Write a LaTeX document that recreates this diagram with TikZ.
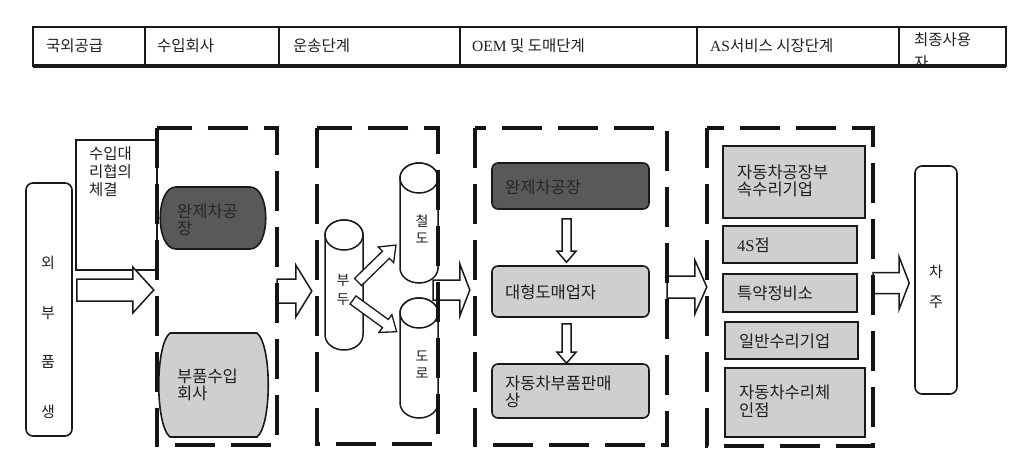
\documentclass[tikz,border=0pt]{standalone}
\usepackage{fontspec}
\setmainfont{Noto Sans CJK KR}
\newfontfamily\lat{Liberation Serif}
\usetikzlibrary{fit,calc}
\newcommand\harr[6]{%
  \draw[barrow] let \p1=(#1), \p2=(#2), \p3=(0,#3) in
    (\x1,\y3+#4pt) -- (\x2-#6pt,\y3+#4pt) -- (\x2-#6pt,\y3+#5pt) -- (\x2,\y3)
    -- (\x2-#6pt,\y3-#5pt) -- (\x2-#6pt,\y3-#4pt) -- (\x1,\y3-#4pt) -- cycle;}
\newcommand\varr[5]{%
  \draw[barrow] let \p1=($(#1.south)+(#5,0)$), \p2=(#2.north) in
    (\x1-4.5pt,\y1-#3pt) -- (\x1+4.5pt,\y1-#3pt) -- (\x1+4.5pt,\y2+#4pt+11pt)
    -- (\x1+9.5pt,\y2+#4pt+11pt) -- (\x1,\y2+#4pt) -- (\x1-9.5pt,\y2+#4pt+11pt)
    -- (\x1-4.5pt,\y2+#4pt+11pt) -- cycle;}
\newcommand\cyl[6]{%
  \node[fit={(#2-#5,#3)(#2+#5,#4)}] (#1) {};
  \draw[cylst] (#2-#5,#3+#6) -- (#2-#5,#4-#6) arc (180:0:#5 and #6)
    -- (#2+#5,#3+#6) arc (0:-180:#5 and #6) -- cycle;
  \draw[cylst] (#2,#3+#6) ellipse (#5 and #6);}
\begin{document}
\begin{tikzpicture}[x=1pt,y=-1pt,
  every node/.style={inner sep=0pt},
  ktxt/.style={font=\fontsize{16.5}{17.5}\selectfont, text=black!88, align=left},
  htxt/.style={font=\fontsize{15.5}{18}\selectfont, text=black!88, anchor=west},
  frame/.style={draw=black!90, line width=1.6pt},
  dboxst/.style={draw=black!92, line width=4.2pt, dash pattern=on 40pt off 16pt},
  barrow/.style={draw=black!90, line width=1.5pt, fill=white, line join=miter},
  cylst/.style={draw=black!90, line width=1.5pt, fill=white},
  lightbox/.style={frame, fill=black!19},
  darkbox/.style={frame, fill=black!65},
]
\useasboundingbox (0,0) rectangle (1023,472);

% ---- header table ----
\node[fit={(33,27)(1006,66)}] (tab) {};
\draw[line width=1.8pt, draw=black!90] (tab.north west) rectangle (tab.south east);
\draw[line width=3.5pt, draw=black!90] (tab.south west) -- (tab.south east);
\foreach \xx in {145,279,460,697,899} \draw[line width=1.6pt, draw=black!90] (\xx,27) -- (\xx,66);
\node[htxt] (h1) at (46,46) {국외공급};
\node[htxt] (h2) at (157,46) {수입회사};
\node[htxt] (h3) at (293,46) {운송단계};
\node[htxt] (h4) at (472,46) {{\lat OEM} 및 도매단계};
\node[htxt] (h5) at (710,46) {{\lat AS}서비스 시장단계};
\begin{scope}
  \clip (900,28) rectangle (1005,63);
  \node[htxt, align=left, font=\fontsize{15.5}{23}\selectfont] (h6) at (914,51) {최종사용\\자};
\end{scope}

% ---- group frames (names only; drawn at the end) ----
\node[fit={(157,128)(277,445)}] (b2) {};
\node[fit={(317,128)(438,444)}] (b3) {};
\node[fit={(475,128)(667,445)}] (b4) {};
\node[fit={(707,128)(873,446)}] (b5) {};

% ---- outer nodes ----
\node[fit={(26,183)(72,436)}, frame, rounded corners=7pt] (ext) {};
\node[align=center, font=\fontsize{15}{49.7}\selectfont, text=black!88] (extt) at (48,337.5) {외\\부\\품\\생};
\node[fit={(76,140)(157,270)}, frame] (agent) {};
\node[ktxt, anchor=north west, font=\fontsize{15.5}{18}\selectfont] (agentt) at (89,146) {수입대\\리협의\\체결};
\node[fit={(915,166)(957,394)}, frame, rounded corners=7pt] (cha) {};
\node[align=center, font=\fontsize{15}{30}\selectfont, text=black!88] (chat) at (936,287) {차\\주};

% ---- block arrows between stages ----
\harr{$(ext.east)+(4,0)$}{$(b2.west)+(-3,0)$}{290}{11}{23}{21}
\harr{b2.east}{$(b3.west)+(-5,0)$}{291}{12}{26}{16}
\harr{$(b3.east)+(-5,0)$}{$(b4.west)+(-5,0)$}{290}{10}{26}{10}
\harr{b4.east}{b5.west}{287}{11}{27}{12}
\harr{b5.east}{$(cha.west)+(-5,0)$}{283}{10.5}{26}{10}

% ---- stage 2: importers ----
\node[fit={(159,187)(267,249)}] (w2) {};
\draw[darkbox] (176,187) -- (250,187) .. controls (271,187) and (271,249) .. (250,249)
  -- (176,249) .. controls (155,249) and (155,187) .. (176,187);
\node[ktxt, anchor=west, text=black!85] (w2t) at (177,220) {완제차공\\장};
\node[fit={(160,333)(267,437)}] (p2) {};
\draw[lightbox] (170,333) -- (257,333) .. controls (272,345) and (272,425) .. (257,437)
  -- (170,437) .. controls (155,425) and (155,345) .. (170,333);
\node[ktxt, anchor=west] (p2t) at (177,385) {부품수입\\회사};

% ---- stage 3: transport ----
\cyl{bu}{344}{220}{350}{19}{15}
\cyl{rail}{419}{163}{283}{19}{15}
\cyl{road}{419}{298}{418}{19}{15}
\node[align=center, font=\fontsize{14}{19}\selectfont, text=black!88] (but) at (343,290) {부\\두};
\node[align=center, font=\fontsize{14}{17}\selectfont, text=black!88] (railt) at (422,229) {철\\도};
\node[align=center, font=\fontsize{14}{17}\selectfont, text=black!88] (roadt) at (422,365) {도\\로};
\coordinate (t1) at (358,282);
\coordinate (t2) at (353,300);
\begin{scope}[shift={(t1)}, rotate=44.2]
  \draw[barrow, line width=1.3pt] (0,5) -- (39,5) -- (39,11) -- (53,0) -- (39,-11) -- (39,-5) -- (0,-5) -- cycle;
\end{scope}
\begin{scope}[shift={(t2)}, rotate=-36]
  \draw[barrow, line width=1.3pt] (0,5) -- (40,5) -- (40,11) -- (54,0) -- (40,-11) -- (40,-5) -- (0,-5) -- cycle;
\end{scope}

% ---- stage 4: OEM / wholesale ----
\node[fit={(492,163)(649,209)}, darkbox, rounded corners=6pt] (w4) {};
\node[ktxt, anchor=west, text=black!85] (w4t) at (505,187) {완제차공장};
\node[fit={(492,266)(649,317)}, lightbox, rounded corners=6pt] (d4) {};
\node[ktxt, anchor=west] (d4t) at (505,292) {대형도매업자};
\node[fit={(492,364)(649,418)}, lightbox, rounded corners=6pt] (p4) {};
\node[ktxt, anchor=west] (p4t) at (505,392) {자동차부품판매\\상};
\varr{w4}{d4}{9}{3}{-4}
\varr{d4}{p4}{6}{0}{-4}

% ---- stage 5: AS service market ----
\node[fit={(723,146)(865,218)}, lightbox] (s1) {};
\node[ktxt, anchor=west] (s1t) at (737,181) {자동차공장부\\속수리기업};
\node[fit={(723,226)(857,263)}, lightbox] (s2) {};
\node[ktxt, anchor=west] (s2t) at (737,245) {{\lat 4S}점};
\node[fit={(723,274)(857,312)}, lightbox] (s3) {};
\node[ktxt, anchor=west] (s3t) at (737,293) {특약정비소};
\node[fit={(725,322)(858,359)}, lightbox] (s4) {};
\node[ktxt, anchor=west] (s4t) at (739,341) {일반수리기업};
\node[fit={(725,368)(865,437)}, lightbox] (s5) {};
\node[ktxt, anchor=west] (s5t) at (739,401) {자동차수리체\\인점};

% ---- dashed stage frames on top ----
\foreach \bb in {b2,b3,b4,b5}
  \draw[dboxst] (\bb.north west) rectangle (\bb.south east);
\end{tikzpicture}
\end{document}
